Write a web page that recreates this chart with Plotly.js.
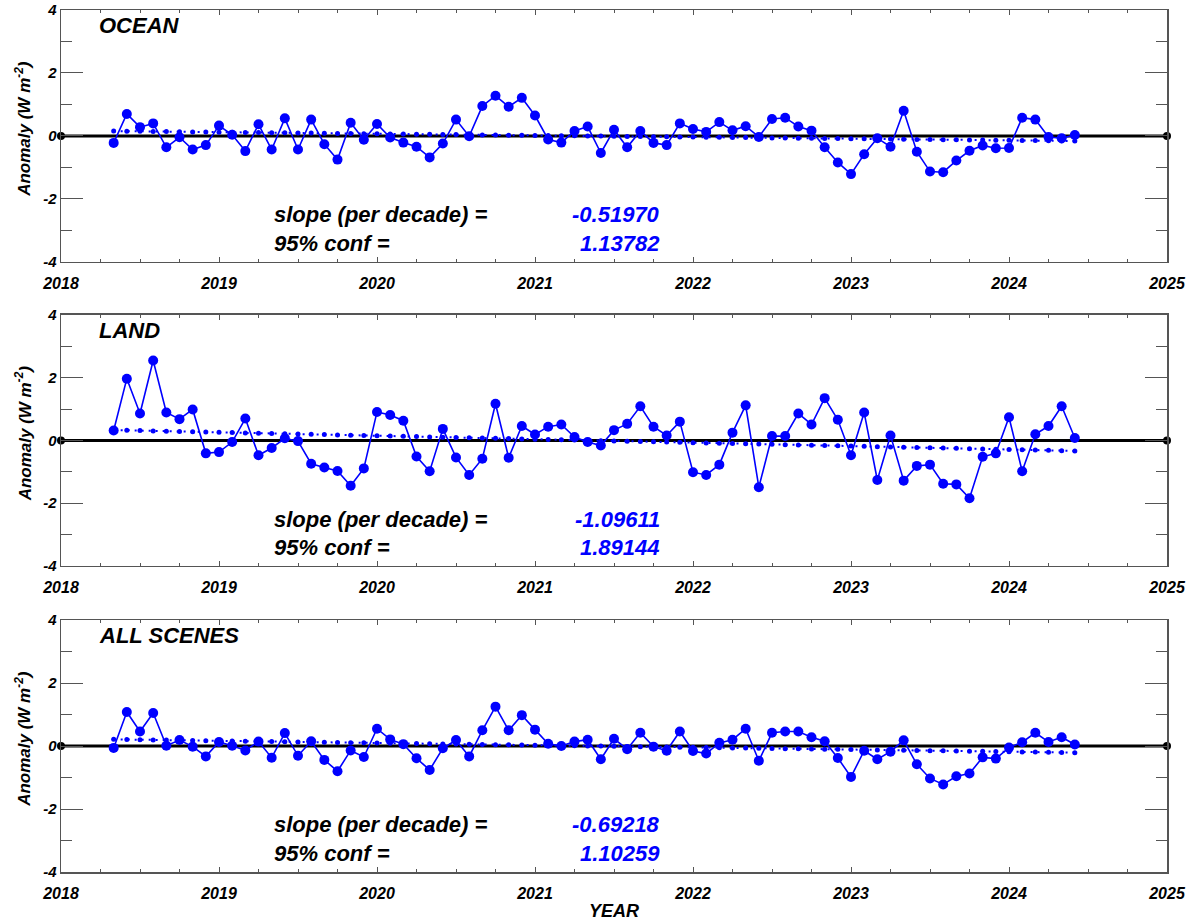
<!DOCTYPE html>
<html>
<head>
<meta charset="utf-8">
<script src="https://cdn.plot.ly/plotly-3.0.1.min.js"></script>
<style>
  html, body { margin: 0; padding: 0; background: #fff; }
  #chart { width: 1189px; height: 921px; }
</style>
</head>
<body>
<div id="chart"></div>
<script>
// Monthly radiative flux anomalies (W m-2), May 2018 – June 2024
const firstYear = 2018;
const firstMonth = 5; // May

const panelNames = ['OCEAN', 'LAND', 'ALL SCENES'];

const ocean = [
  -0.22, 0.70, 0.28, 0.40, -0.36, -0.04, -0.43, -0.29, 0.33, 0.04,
  -0.48, 0.37, -0.43, 0.56, -0.43, 0.52, -0.26, -0.75, 0.42, -0.12,
  0.38, -0.05, -0.21, -0.34, -0.68, -0.24, 0.52, -0.01, 0.95, 1.28,
  0.93, 1.21, 0.65, -0.11, -0.21, 0.16, 0.30, -0.54, 0.20, -0.36,
  0.16, -0.22, -0.29, 0.40, 0.22, 0.13, 0.44, 0.18, 0.31, -0.03,
  0.54, 0.58, 0.30, 0.17, -0.36, -0.84, -1.21, -0.58, -0.07, -0.34,
  0.80, -0.50, -1.13, -1.15, -0.78, -0.47, -0.30, -0.39, -0.38, 0.58,
  0.52, -0.03, -0.07, 0.03
];

const land = [
  0.32, 1.97, 0.86, 2.55, 0.89, 0.68, 0.99, -0.41, -0.37, -0.05,
  0.70, -0.47, -0.24, 0.07, -0.02, -0.74, -0.86, -0.97, -1.44, -0.89,
  0.91, 0.81, 0.63, -0.51, -0.98, 0.37, -0.54, -1.10, -0.58, 1.17,
  -0.55, 0.46, 0.19, 0.44, 0.51, 0.11, -0.05, -0.16, 0.33, 0.53,
  1.09, 0.44, 0.16, 0.60, -1.01, -1.10, -0.77, 0.25, 1.12, -1.49,
  0.14, 0.14, 0.86, 0.51, 1.35, 0.66, -0.47, 0.89, -1.26, 0.16,
  -1.28, -0.81, -0.77, -1.38, -1.40, -1.84, -0.52, -0.41, 0.74, -0.98,
  0.20, 0.46, 1.09, 0.08
];

const allScenes = [
  -0.06, 1.08, 0.46, 1.05, 0.01, 0.19, -0.02, -0.33, 0.13, 0.01,
  -0.14, 0.14, -0.37, 0.41, -0.31, 0.15, -0.44, -0.80, -0.14, -0.35,
  0.55, 0.21, 0.06, -0.39, -0.76, -0.07, 0.19, -0.33, 0.50, 1.25,
  0.50, 0.98, 0.52, 0.07, 0.00, 0.14, 0.20, -0.42, 0.23, -0.10,
  0.42, -0.02, -0.15, 0.46, -0.16, -0.24, 0.10, 0.20, 0.55, -0.47,
  0.42, 0.46, 0.46, 0.28, 0.15, -0.38, -0.98, -0.15, -0.42, -0.18,
  0.18, -0.58, -1.03, -1.22, -0.96, -0.87, -0.36, -0.40, -0.05, 0.12,
  0.42, 0.13, 0.28, 0.05
];

// Trend statistics (per decade) and 95% confidence
const slopes = [-0.51970, -1.09611, -0.69218];
const confs = [1.13782, 1.89144, 1.10259];

const yearTicks = [2018, 2019, 2020, 2021, 2022, 2023, 2024, 2025];
const anomalyTicks = [-4, -2, 0, 2, 4];

const series = [ocean, land, allScenes];

// decimal-year positions for each month
const xYears = ocean.map((_, i) => firstYear + (firstMonth - 1 + i) / 12);

const FONT = 'Liberation Sans, Arial, Helvetica, sans-serif';
const BLUE = '#0000ff';
const FRAME = '#555555';

const traces = [];
const annotations = [];
const layout = {
  width: 1189, height: 921,
  margin: { l: 61, r: 22, t: 10, b: 49 },
  paper_bgcolor: '#fff', plot_bgcolor: '#fff',
  showlegend: false,
  font: { family: FONT, color: '#000' }
};

const domains = [[0.7077, 1.0], [0.355, 0.6462], [0.0, 0.2923]];
const bi = (size, color) => ({ family: FONT, size: size, weight: 'bold', style: 'italic', color: color });

series.forEach((vals, p) => {
  const n = p + 1;
  const xa = 'x' + (n === 1 ? '' : n);
  const ya = 'y' + (n === 1 ? '' : n);

  // zero reference line with end dots
  traces.push({
    x: [yearTicks[0], yearTicks[yearTicks.length - 1]], y: [0, 0],
    xaxis: xa, yaxis: ya, mode: 'lines+markers', cliponaxis: false,
    line: { color: '#000', width: 3 },
    marker: { color: '#000', size: 8 },
    hoverinfo: 'skip'
  });

  // least-squares line using the stated slope, through the data mean
  const slopePerYear = slopes[p] / 10;
  const mx = xYears.reduce((a, b) => a + b, 0) / xYears.length;
  const my = vals.reduce((a, b) => a + b, 0) / vals.length;
  const trendY = xYears.map(x => my + slopePerYear * (x - mx));
  traces.push({
    x: xYears, y: trendY, xaxis: xa, yaxis: ya,
    mode: 'lines+markers',
    line: { color: BLUE, width: 2, dash: '2px,5px' },
    marker: { color: BLUE, size: 5 },
    hoverinfo: 'skip'
  });

  // monthly anomalies
  traces.push({
    x: xYears, y: vals, xaxis: xa, yaxis: ya,
    mode: 'lines+markers',
    line: { color: BLUE, width: 1.6 },
    marker: { color: BLUE, size: 10 }
  });

  const xKey = 'xaxis' + (n === 1 ? '' : n);
  const yKey = 'yaxis' + (n === 1 ? '' : n);
  layout[xKey] = {
    domain: [0, 1], anchor: ya,
    range: [yearTicks[0], yearTicks[yearTicks.length - 1]],
    tickmode: 'array', tickvals: yearTicks, ticktext: yearTicks.map(String),
    ticks: 'inside', ticklen: 5, tickwidth: 1, tickcolor: FRAME,
    minor: { dtick: 0.25, tick0: 2018, ticks: 'inside', ticklen: 3, tickcolor: FRAME, showgrid: false },
    showline: true, linecolor: FRAME, linewidth: 1.5, mirror: 'ticks',
    showgrid: false, zeroline: false,
    ticklabelstandoff: 6,
    tickfont: bi(16, '#000')
  };
  layout[yKey] = {
    domain: domains[p], anchor: xa,
    range: [-4, 4],
    tickmode: 'array', tickvals: anomalyTicks, ticktext: anomalyTicks.map(String),
    ticks: 'inside', ticklen: 22, tickwidth: 1, tickcolor: FRAME,
    minor: { dtick: 1, tick0: 0, ticks: 'inside', ticklen: 11, tickcolor: FRAME, showgrid: false },
    showline: true, linecolor: FRAME, linewidth: 1.5, mirror: 'ticks',
    showgrid: false, zeroline: false,
    tickfont: bi(15, '#000')
  };

  const xd = xa + ' domain';
  const yd = ya + ' domain';

  annotations.push({
    xref: xd, yref: yd, x: 0.033, y: 0.94, xanchor: 'left', yanchor: 'middle',
    text: panelNames[p], showarrow: false, font: bi(22, '#000')
  });
  annotations.push({
    xref: xd, yref: yd, x: 0.191, y: 0.187, xanchor: 'left', yanchor: 'middle',
    text: 'slope (per decade) =', showarrow: false, font: bi(22, '#000')
  });
  annotations.push({
    xref: xd, yref: yd, x: 0.191, y: 0.072, xanchor: 'left', yanchor: 'middle',
    text: '95% conf =', showarrow: false, font: bi(22, '#000')
  });
  annotations.push({
    xref: xd, yref: yd, x: 0.5434, y: 0.187, xanchor: 'right', yanchor: 'middle',
    text: slopes[p].toFixed(5), showarrow: false, font: bi(22, BLUE)
  });
  annotations.push({
    xref: xd, yref: yd, x: 0.5434, y: 0.072, xanchor: 'right', yanchor: 'middle',
    text: confs[p].toFixed(5), showarrow: false, font: bi(22, BLUE)
  });
  annotations.push({
    xref: 'paper', yref: yd, x: -0.034, y: 0.53, xanchor: 'center', yanchor: 'middle',
    textangle: -90, text: 'Anomaly (W m<sup>-2</sup>)', showarrow: false, font: bi(17, '#000')
  });
});

annotations.push({
  xref: 'paper', yref: 'paper', x: 0.5, y: -0.045, xanchor: 'center', yanchor: 'middle',
  text: 'YEAR', showarrow: false, font: bi(18, '#000')
});

layout.annotations = annotations;

Plotly.newPlot('chart', traces, layout, { staticPlot: true, displayModeBar: false });
</script>
</body>
</html>
